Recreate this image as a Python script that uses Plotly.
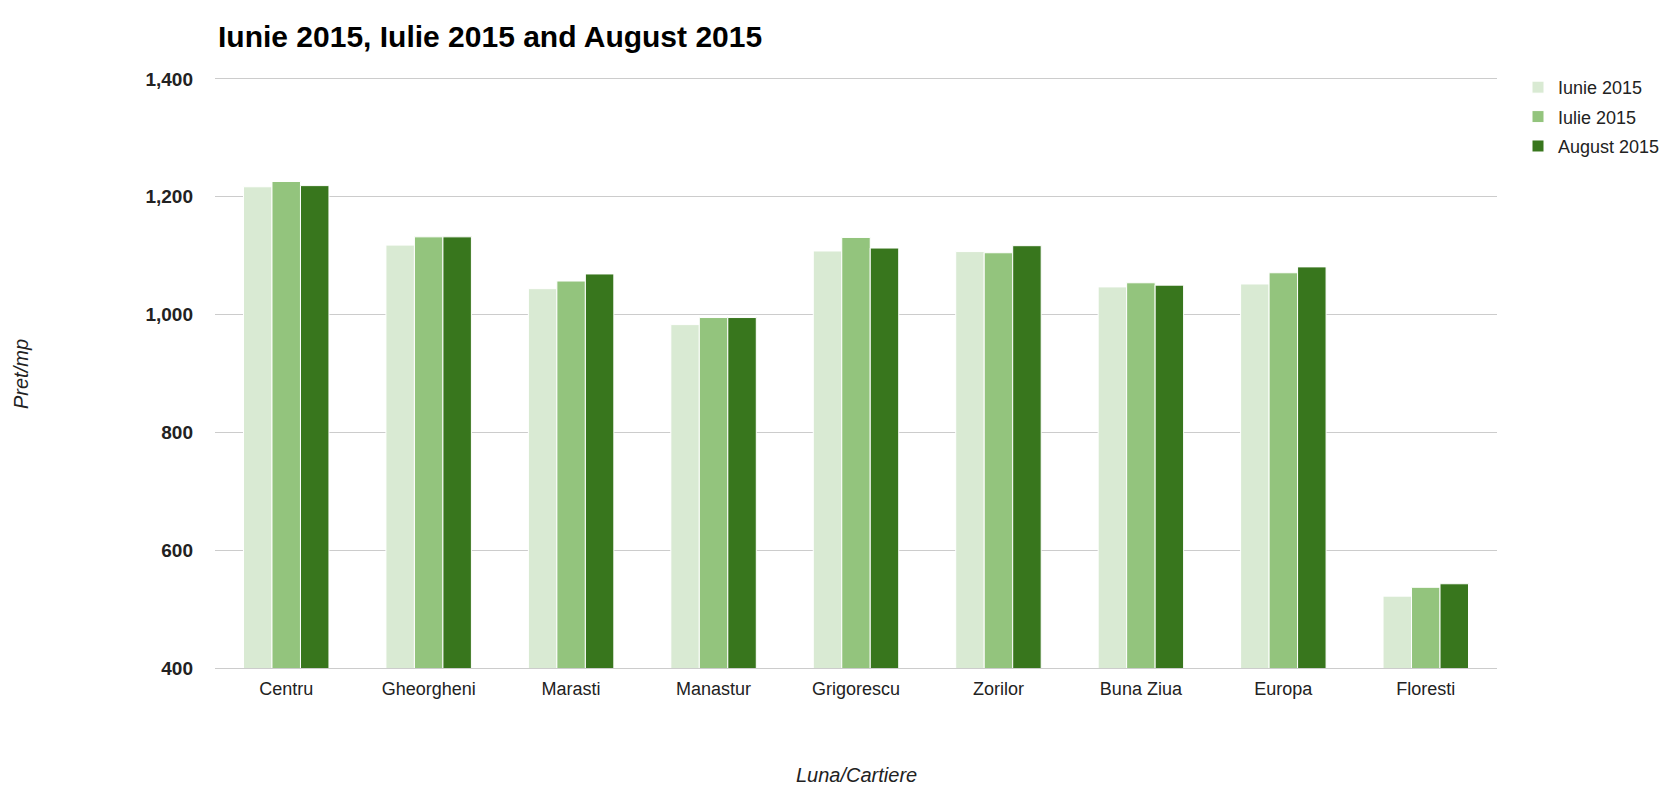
import plotly.graph_objects as go

categories = ["Centru", "Gheorgheni", "Marasti", "Manastur", "Grigorescu",
              "Zorilor", "Buna Ziua", "Europa", "Floresti"]
series_names = ["Iunie 2015", "Iulie 2015", "August 2015"]
iunie = [1217, 1118, 1044, 983, 1108, 1107, 1047, 1052, 522]
iulie = [1226, 1132, 1057, 995, 1131, 1105, 1054, 1071, 537]
august = [1219, 1132, 1069, 995, 1113, 1117, 1050, 1081, 543]
colors = ["#d9ead3", "#93c47d", "#38761d"]
y_ticks = [400, 600, 800, 1000, 1200, 1400]

# page has an 8px body margin, so figure coords = page coords - 8
W, H = 1671, 797
L, T = 207, 71
pw, ph = 1282, 589
R, B = W - L - pw, H - T - ph

fig = go.Figure()
for name, vals, col in zip(series_names, [iunie, iulie, august], colors):
    fig.add_trace(go.Bar(
        x=categories, y=vals, name=name, legendgroup=name,
        marker=dict(color=col, line=dict(color="white", width=1)),
    ))

font = "Liberation Sans, Arial, sans-serif"
fig.update_layout(
    width=W, height=H,
    margin=dict(l=L, r=R, t=T, b=B, autoexpand=False),
    plot_bgcolor="white", paper_bgcolor="white",
    barmode="group", bargap=0.4, bargroupgap=0,
    font=dict(family=font, color="#222222"),
    title=dict(text="<b>Iunie 2015, Iulie 2015 and August 2015</b>",
               x=210 / W, xanchor="left", xref="container",
               y=1 - 28 / H, yanchor="middle",
               font=dict(size=30, color="#000000", family=font)),
    legend=dict(x=(1510 - L) / pw, y=1.017, xanchor="left", yanchor="top",
                font=dict(size=18, color="#222222"), traceorder="grouped",
                itemwidth=30, tracegroupgap=3),
    showlegend=True,
)
fig.update_xaxes(showgrid=False, showline=True, mirror=True,
                 linecolor="#cccccc", linewidth=1, ticks="",
                 tickfont=dict(size=18, color="#222222"),
                 ticklabelstandoff=4)
fig.update_yaxes(range=[400, 1400], tickvals=y_ticks, tickformat=",",
                 showgrid=True, gridcolor="#cccccc", gridwidth=1,
                 zeroline=False, showline=False, ticks="",
                 tickfont=dict(size=19, color="#222222", weight="bold"),
                 ticklabelstandoff=21)

fig.add_annotation(text="<i>Pret/mp</i>", textangle=-90, xref="paper", yref="paper",
                   x=(13 - L) / pw, y=(T + ph - 366) / ph, showarrow=False,
                   xanchor="center", yanchor="middle",
                   font=dict(size=20, color="#222222"))
fig.add_annotation(text="<i>Luna/Cartiere</i>", xref="paper", yref="paper",
                   x=0.5, y=(T + ph - 767) / ph, showarrow=False,
                   xanchor="center", yanchor="middle",
                   font=dict(size=20, color="#222222"))

fig.write_html("out.html")
